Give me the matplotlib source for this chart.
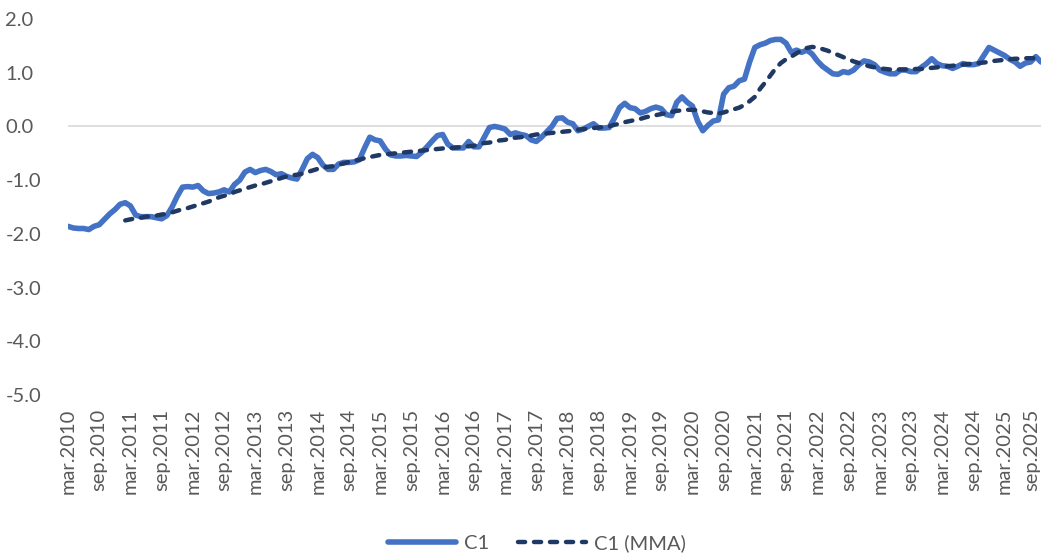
import numpy as np
import matplotlib.pyplot as plt
from matplotlib.transforms import ScaledTranslation

plt.rcParams["font.family"]=["Lato","DejaVu Sans"]

c1=[-1.86,-1.89,-1.90,-1.90,-1.92,-1.86,-1.83,-1.73,-1.63,-1.55,-1.45,-1.42,-1.48,-1.65,-1.68,-1.68,-1.68,-1.70,-1.72,-1.66,
    -1.50,-1.30,-1.13,-1.12,-1.13,-1.10,-1.20,-1.25,-1.24,-1.22,-1.18,-1.22,-1.08,-1.00,-0.85,-0.80,-0.86,-0.82,-0.80,-0.84,
    -0.90,-0.88,-0.93,-0.96,-0.98,-0.80,-0.60,-0.52,-0.58,-0.72,-0.80,-0.80,-0.70,-0.67,-0.67,-0.66,-0.62,-0.40,-0.20,-0.25,
    -0.27,-0.42,-0.53,-0.55,-0.55,-0.54,-0.55,-0.56,-0.48,-0.38,-0.27,-0.17,-0.15,-0.33,-0.40,-0.40,-0.40,-0.28,-0.38,-0.38,
    -0.20,-0.02,0.00,-0.02,-0.05,-0.15,-0.12,-0.15,-0.17,-0.25,-0.28,-0.20,-0.10,0.00,0.15,0.16,0.08,0.05,-0.08,-0.05,
    0.00,0.05,-0.03,-0.03,-0.02,0.15,0.35,0.43,0.35,0.33,0.25,0.28,0.33,0.36,0.33,0.22,0.20,0.45,0.55,0.45,
    0.38,0.10,-0.08,0.02,0.10,0.12,0.60,0.72,0.75,0.85,0.88,1.20,1.47,1.52,1.55,1.60,1.62,1.62,1.55,1.38,
    1.42,1.38,1.42,1.35,1.22,1.12,1.05,0.98,0.97,1.02,1.00,1.05,1.15,1.22,1.20,1.15,1.05,1.01,0.98,0.98,
    1.05,1.05,1.02,1.02,1.10,1.17,1.26,1.17,1.13,1.12,1.08,1.12,1.17,1.15,1.15,1.17,1.32,1.47,1.42,1.37,
    1.32,1.25,1.20,1.12,1.18,1.20,1.30,1.20]
mma_start=11
c1_mma=[-1.75,-1.73,-1.71,-1.70,-1.68,-1.67,-1.66,-1.64,-1.63,-1.60,-1.57,-1.54,-1.52,-1.49,-1.46,-1.43,-1.40,-1.36,-1.32,
        -1.29,-1.27,-1.22,-1.19,-1.16,-1.13,-1.10,-1.08,-1.05,-1.02,-0.99,-0.96,-0.93,-0.91,-0.90,-0.88,-0.85,-0.82,-0.79,
        -0.77,-0.75,-0.74,-0.71,-0.69,-0.66,-0.64,-0.62,-0.59,-0.57,-0.55,-0.53,-0.52,-0.51,-0.50,-0.49,-0.48,-0.47,-0.46,
        -0.45,-0.44,-0.43,-0.42,-0.41,-0.41,-0.40,-0.39,-0.38,-0.37,-0.36,-0.33,-0.31,-0.30,-0.28,-0.26,-0.25,-0.22,-0.21,
        -0.20,-0.19,-0.17,-0.15,-0.14,-0.13,-0.12,-0.11,-0.10,-0.09,-0.08,-0.06,-0.05,-0.04,-0.03,-0.02,-0.01,0.00,0.03,
        0.05,0.08,0.10,0.12,0.14,0.17,0.19,0.21,0.23,0.25,0.27,0.29,0.30,0.31,0.31,0.30,0.28,0.26,0.25,0.24,0.26,0.29,
        0.32,0.35,0.40,0.47,0.55,0.70,0.82,0.95,1.08,1.18,1.25,1.30,1.36,1.42,1.46,1.48,1.47,1.44,1.41,1.37,1.33,1.29,
        1.25,1.21,1.18,1.15,1.12,1.10,1.08,1.07,1.06,1.06,1.06,1.06,1.06,1.07,1.07,1.08,1.09,1.10,1.11,1.12,1.13,1.14,
        1.15,1.16,1.17,1.18,1.19,1.20,1.22,1.23,1.24,1.25,1.26,1.26,1.27,1.27,1.27,1.27]
tick_labels=[f"{m}.{y}" for y in range(2010,2026) for m in ("mar","sep")]
y_ticks=[2.0,1.0,0.0,-1.0,-2.0,-3.0,-4.0,-5.0]

W,H=1041,554
fig=plt.figure(figsize=(W/100,H/100),dpi=100)
ax=fig.add_axes([68/W,1-395/H,(W-68)/W,376/H])
x=np.arange(len(c1))
ax.axhline(0,color="#d9d9d9",lw=1.2,zorder=1)
ax.plot(x,c1,color="#4472C4",lw=4.0,solid_joinstyle="round",solid_capstyle="round",label="C1",zorder=3)
ax.plot(x[mma_start:],c1_mma,color="#203864",lw=3.2,dashes=(1.6,2.0),dash_capstyle="round",label="C1 (MMA)",zorder=4)
ax.set_xlim(0,len(c1)-1)
ax.set_ylim(-5,2)
ax.set_yticks(y_ticks)
ax.set_yticklabels([f"{v:.1f}" for v in y_ticks])
ax.set_xticks(x[::6])
ax.set_xticklabels(tick_labels,rotation=90)
ax.tick_params(axis="both",length=0,labelsize=14.5,labelcolor="#595959")
ax.tick_params(axis="x",pad=10)
ax.tick_params(axis="y",pad=45)
for lab in ax.get_yticklabels():
    lab.set_horizontalalignment("left")
last=ax.get_xticklabels()[-1]
last.set_transform(last.get_transform()+ScaledTranslation(-4/100,0,fig.dpi_scale_trans))
for s in ax.spines.values():
    s.set_visible(False)
leg=fig.legend(loc="center",bbox_to_anchor=(537/W,11/H),ncol=2,frameon=False,fontsize=14.5,
               handlelength=3.4,handletextpad=0.4,columnspacing=1.4)
for t in leg.get_texts():
    t.set_color("#595959")
fig.savefig("out.png",dpi=100)
